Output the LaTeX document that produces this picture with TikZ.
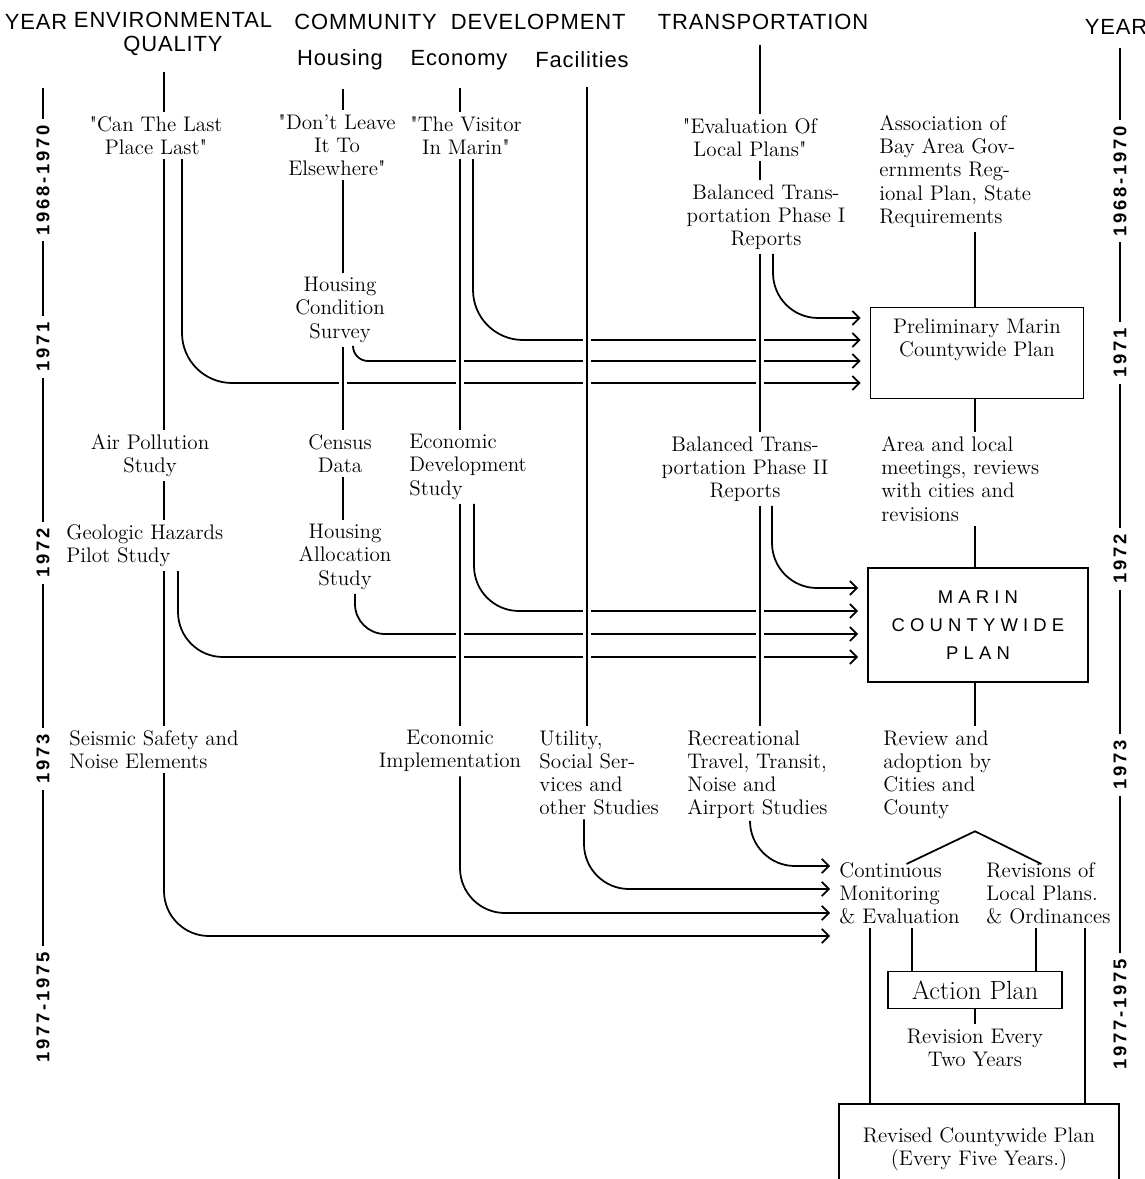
\documentclass[tikz,border=0pt]{standalone}
\usepackage{fontspec}
\usetikzlibrary{positioning,arrows.meta,calc}

\newfontfamily\headfont[LetterSpace=4]{Liberation Sans}
\newfontfamily\yearfont[LetterSpace=15]{Liberation Sans}
\newfontfamily\boxfont[LetterSpace=28]{Liberation Sans}

\begin{document}
\begin{tikzpicture}[
    x=0.02cm, y=-0.02cm,
    line width=1pt,
    >={Straight Barb[length=4pt,width=8pt]},
    head/.style={font=\headfont\fontsize{12.5}{13.6}\selectfont, align=center, inner sep=2pt},
    hand/.style={font=\fontsize{12}{13.2}\selectfont, inner sep=2pt},
    yearlbl/.style={font=\yearfont\bfseries\fontsize{10.5}{12}\selectfont, rotate=90, inner sep=3pt},
    planbox/.style={draw, hand, align=center},
    yearline/.style={line width=1.2pt},
    col/.style={preaction={draw=white, line width=4.5pt}},
    feed/.style={->, rounded corners=0.9cm, shorten >=1.8mm}
]
\useasboundingbox (0,0) rectangle (1145,1179);
\clip (0,0) rectangle (1145,1179);

% Column positions
\coordinate (envcol) at (164,0);
\coordinate (houcol) at (343,0);
\coordinate (ecocol) at (460,0);
\coordinate (faccol) at (587,0);
\coordinate (tracol) at (760,0);
\coordinate (plancol) at (975,0);
\coordinate (lyear) at (43,0);
\coordinate (ryear) at (1120,0);

% Headers
\node[head] (yearl) at (36,22) {YEAR};
\node[head] (envhead) at (173,34) {ENVIRONMENTAL\\QUALITY};
\node[head] (comhead) at (460,22) {COMMUNITY \ DEVELOPMENT};
\node[head] (trahead) at (763,22) {TRANSPORTATION};
\node[head] (yearr) at (1116,27) {YEAR};
\node[head] (houhead) at (340,60) {Housing};
\node[head] (ecohead) at (459,60) {Economy};
\node[head] (fachead) at (582,60) {Facilities};

% Year labels
\node[yearlbl] (y1l) at (43,180) {1968-1970};
\node[yearlbl] (y2l) at (43,347) {1971};
\node[yearlbl] (y3l) at (43,553) {1972};
\node[yearlbl] (y4l) at (43,759) {1973};
\node[yearlbl] (y5l) at (43,1007) {1977-1975};
\node[yearlbl] (y1r) at (1120,181) {1968-1970};
\node[yearlbl] (y2r) at (1120,353) {1971};
\node[yearlbl] (y3r) at (1120,559) {1972};
\node[yearlbl] (y4r) at (1120,765) {1973};
\node[yearlbl] (y5r) at (1120,1014) {1977-1975};

% 1968-1971
\node[hand, align=center, anchor=north] (canlast) at (156,112) {\textquotedbl Can The Last\\Place Last\textquotedbl};
\node[hand, align=center, anchor=north] (dontleave) at (337,110) {\textquotedbl Don't Leave\\It To\\Elsewhere\textquotedbl};
\node[hand, align=center, anchor=north] (visitor) at (466,112) {\textquotedbl The Visitor\\In Marin\textquotedbl};
\node[hand, align=center, anchor=north] (evalloc) at (750,114) {\textquotedbl Evaluation Of\\Local Plans\textquotedbl};
\node[hand, align=center, anchor=north] (phase1) at (766,180) {Balanced Trans-\\portation Phase I\\Reports};
\node[hand, align=left, anchor=north west] (abag) at (875,111) {Association of\\Bay Area Gov-\\ernments Reg-\\ional Plan, State\\Requirements};
\node[hand, align=center, anchor=north] (hcond) at (340,273) {Housing\\Condition\\Survey};
\node[planbox, minimum width=4.26cm, minimum height=1.82cm] (prelim) at (977,353) {Preliminary Marin\\Countywide Plan\\[4pt]};

% 1972
\node[hand, align=center, anchor=north] (airpol) at (150,430) {Air Pollution\\Study};
\node[hand, align=center, anchor=north] (census) at (340,430) {Census\\Data};
\node[hand, align=left, anchor=north west] (ecodev) at (405,430) {Economic\\Development\\Study};
\node[hand, align=center, anchor=north] (phase2) at (745,432) {Balanced Trans-\\portation Phase II\\Reports};
\node[hand, align=left, anchor=north west] (areamt) at (877,432) {Area and local\\meetings, reviews\\with cities and\\revisions};
\node[hand, align=left, anchor=north west] (geohaz) at (62,520) {Geologic Hazards\\Pilot Study};
\node[hand, align=center, anchor=north] (halloc) at (345,520) {Housing\\Allocation\\Study};
\node[draw, font=\boxfont\fontsize{10.5}{16}\selectfont, align=center, minimum width=4.4cm, minimum height=2.28cm] (marin) at (978,625) {MARIN\\COUNTYWIDE\\PLAN};

% 1973
\node[hand, align=left, anchor=north west] (seismic) at (65,726) {Seismic Safety and\\Noise Elements};
\node[hand, align=center, anchor=north] (ecoimp) at (450,726) {Economic\\Implementation};
\node[hand, align=left, anchor=north west] (utility) at (535,726) {Utility,\\Social Ser-\\vices and\\other Studies};
\node[hand, align=left, anchor=north west] (recr) at (683,726) {Recreational\\Travel, Transit,\\Noise and\\Airport Studies};
\node[hand, align=left, anchor=north west] (review) at (879,726) {Review and\\adoption by\\Cities and\\County};

% 1975-1977
\node[hand, align=left, anchor=north west] (contmon) at (835,858) {Continuous\\Monitoring\\\& Evaluation};
\node[hand, align=left, anchor=north west] (revloc) at (982,858) {Revisions of\\Local Plans.\\\& Ordinances};
\node[planbox, font=\fontsize{15}{17}\selectfont, minimum width=3.48cm, minimum height=0.74cm] (action) at (975,990) {Action Plan};
\node[hand, align=center, below=0.3cm of action] (revtwo) {Revision Every\\Two Years};
\node[planbox, anchor=north, minimum width=5.6cm, minimum height=1.8cm] (revised) at (979,1103) {Revised Countywide Plan\\(Every Five Years.)};

% Feeds into the preliminary plan
\draw[feed] ($(phase1.south -| tracol)+(13,0)$) |- (prelim.west |- 0,318);
\draw[feed, rounded corners=1cm] ($(visitor.south -| ecocol)+(13,0)$) |- (prelim.west |- 0,340);
\draw[feed, rounded corners=0.3cm] ($(hcond.south -| houcol)+(10,0)$) |- (prelim.west |- 0,361);
\draw[feed, rounded corners=1cm] ($(canlast.south -| envcol)+(18,0)$) |- (prelim.west |- 0,383);

% Feeds into the countywide plan
\draw[feed] ($(phase2.south -| tracol)+(12,0)$) |- (marin.west |- 0,588);
\draw[feed] ($(ecodev.south -| ecocol)+(14,0)$) |- (marin.west |- 0,611);
\draw[feed, rounded corners=0.6cm] ($(halloc.south -| houcol)+(12,0)$) |- (marin.west |- 0,634);
\draw[feed] ($(geohaz.south -| envcol)+(14,0)$) |- (marin.west |- 0,657);

% Feeds into monitoring
\draw[feed, shorten >=1mm] ($(recr.south -| tracol)+(-10,0)$) |- (contmon.west |- 0,866);
\draw[feed, shorten >=1mm] ($(utility.south -| faccol)+(-3,0)$) |- (contmon.west |- 0,889);
\draw[feed, shorten >=1mm] (ecoimp.south -| ecocol) |- (contmon.west |- 0,913);
\draw[feed, shorten >=1mm] (seismic.south -| envcol) |- (contmon.west |- 0,936);

% Column lines
\draw[col, shorten <=0.24cm] (envhead.south -| envcol) -- (canlast.north -| envcol);
\draw[col] (canlast.south -| envcol) -- (airpol.north -| envcol);
\draw[col] (airpol.south -| envcol) -- (geohaz.north -| envcol);
\draw[col] (geohaz.south -| envcol) -- (seismic.north -| envcol);

\draw[col, shorten <=0.28cm] (houhead.south -| houcol) -- (dontleave.north -| houcol);
\draw[col] (dontleave.south -| houcol) -- (hcond.north -| houcol);
\draw[col] (hcond.south -| houcol) -- (census.north -| houcol);
\draw[col] (census.south -| houcol) -- (halloc.north -| houcol);

\draw[col, shorten <=0.28cm] (ecohead.south -| ecocol) -- (visitor.north -| ecocol);
\draw[col] (visitor.south -| ecocol) -- (ecodev.north -| ecocol);
\draw[col] (ecodev.south -| ecocol) -- (ecoimp.north -| ecocol);

\draw[col, shorten <=0.3cm] (fachead.south -| faccol) -- (utility.north -| faccol);

\draw[col, shorten <=0.22cm] (trahead.south -| tracol) -- (evalloc.north -| tracol);
\draw[col] (evalloc.south -| tracol) -- (phase1.north -| tracol);
\draw[col] (phase1.south -| tracol) -- (phase2.north -| tracol);
\draw[col] (phase2.south -| tracol) -- (recr.north -| tracol);

% Plan column
\draw (abag.south -| plancol) -- (prelim.north -| plancol);
\draw (prelim.south -| plancol) -- (areamt.north -| plancol);
\draw (areamt.south -| plancol) -- (marin.north -| plancol);
\draw (marin.south -| plancol) -- (review.north -| plancol);
\draw ($(contmon.north)+(7,6)$) -- ($(review.south -| plancol)+(0,8)$) -- ($(revloc.north)+(-7,6)$);

% Action plan and revisions
\coordinate (dropa) at (870,0);
\coordinate (dropb) at (912,0);
\coordinate (dropc) at (1036,0);
\coordinate (dropd) at (1085,0);
\draw (contmon.south -| dropa) -- (revised.north -| dropa);
\draw (contmon.south -| dropb) -- (action.north -| dropb);
\draw (revloc.south -| dropc) -- (action.north -| dropc);
\draw (revloc.south -| dropd) -- (revised.north -| dropd);
\draw (action.south) -- (revtwo.north);

% Year axes
\coordinate (ltop) at (43,88);
\draw[yearline] (ltop) -- (y1l.east);
\draw[yearline] (y1l.west) -- (y2l.east);
\draw[yearline] (y2l.west) -- (y3l.east);
\draw[yearline] (y3l.west) -- (y4l.east);
\draw[yearline] (y4l.west) -- (y5l.east);
\draw[yearline, shorten <=0.18cm] (yearr.south -| ryear) -- (y1r.east);
\draw[yearline] (y1r.west) -- (y2r.east);
\draw[yearline] (y2r.west) -- (y3r.east);
\draw[yearline] (y3r.west) -- (y4r.east);
\draw[yearline] (y4r.west) -- (y5r.east);

\end{tikzpicture}
\end{document}
